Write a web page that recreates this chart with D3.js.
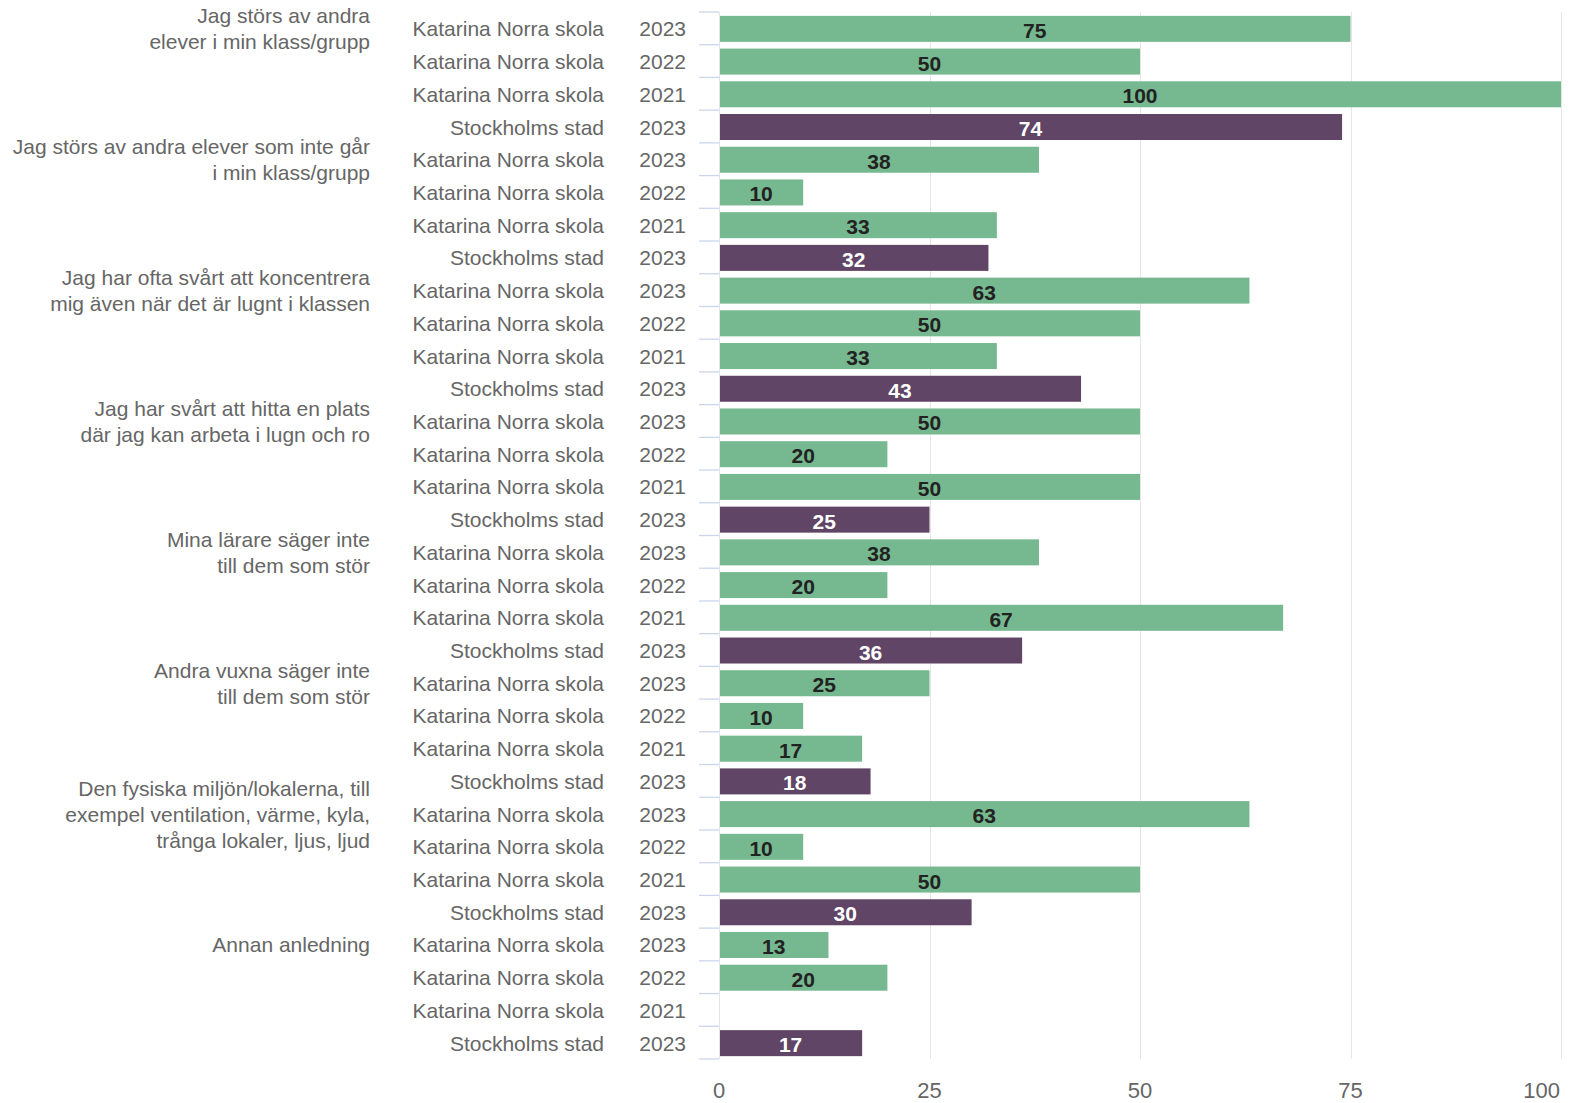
<!DOCTYPE html>
<html>
<head>
<meta charset="utf-8">
<script src="https://cdnjs.cloudflare.com/ajax/libs/d3/7.8.5/d3.min.js"></script>
<style>
  body { margin: 0; background: #fff; }
  svg { display: block; font-family: "Liberation Sans", Arial, Helvetica, sans-serif; }
</style>
</head>
<body>
<svg></svg>
<script>
// questions, each one has 4 rows
var questions = [
    ['Jag störs av andra', 'elever i min klass/grupp'],
    ['Jag störs av andra elever som inte går', 'i min klass/grupp'],
    ['Jag har ofta svårt att koncentrera', 'mig även när det är lugnt i klassen'],
    ['Jag har svårt att hitta en plats', 'där jag kan arbeta i lugn och ro'],
    ['Mina lärare säger inte', 'till dem som stör'],
    ['Andra vuxna säger inte', 'till dem som stör'],
    ['Den fysiska miljön/lokalerna, till', 'exempel ventilation, värme, kyla,', 'trånga lokaler, ljus, ljud'],
    ['Annan anledning']
];

var units = ['Katarina Norra skola', 'Katarina Norra skola', 'Katarina Norra skola', 'Stockholms stad'];
var years = ['2023', '2022', '2021', '2023'];

// values per question: KN 2023, KN 2022, KN 2021, Sthlm 2023
var values = [
    [75, 50, 100, 74],
    [38, 10, 33, 32],
    [63, 50, 33, 43],
    [50, 20, 50, 25],
    [38, 20, 67, 36],
    [25, 10, 17, 18],
    [63, 10, 50, 30],
    [13, 20, null, 17]
];

var xTicks = [0, 25, 50, 75, 100];

var width = 1579;
var height = 1103;
var plotLeft = 719;
var plotRight = 1561;
var plotTop = 12;
var plotBottom = 1059;

var green = '#76b88f';
var purple = '#604566';

var svg = d3.select('svg')
    .attr('width', width)
    .attr('height', height);

// flatten into rows
var rows = [];
questions.forEach((q, qi) => {
    units.forEach((u, ui) => {
        rows.push({ q: qi, i: ui, unit: u, year: years[ui], value: values[qi][ui], city: ui === 3 });
    });
});

var xScale = d3.scaleLinear()
    .domain([0, 100])
    .range([plotLeft, plotRight]);

var yScale = d3.scaleBand()
    .domain(d3.range(rows.length))
    .range([plotTop, plotBottom]);

var step = yScale.step();
var barH = 26;

// grid
svg.append('g')
    .selectAll('line')
    .data(xTicks.slice(1))
    .enter()
    .append('line')
    .attr('x1', (d) => Math.round(xScale(d)) + 0.5)
    .attr('x2', (d) => Math.round(xScale(d)) + 0.5)
    .attr('y1', plotTop)
    .attr('y2', plotBottom)
    .attr('stroke', '#e6e6e6')
    .attr('stroke-width', 1);

// y axis line and ticks
svg.append('line')
    .attr('x1', plotLeft + 0.5)
    .attr('x2', plotLeft + 0.5)
    .attr('y1', plotTop)
    .attr('y2', plotBottom)
    .attr('stroke', '#dde3ef')
    .attr('stroke-width', 1);

svg.append('g')
    .selectAll('line')
    .data(d3.range(rows.length + 1))
    .enter()
    .append('line')
    .attr('x1', plotLeft - 20)
    .attr('x2', plotLeft)
    .attr('y1', (d) => plotTop + d * step)
    .attr('y2', (d) => plotTop + d * step)
    .attr('stroke', '#ccd6eb')
    .attr('stroke-width', 1.3);

// bars
var barData = rows.filter((d) => d.value !== null);

svg.append('g')
    .selectAll('rect')
    .data(barData)
    .enter()
    .append('rect')
    .attr('x', xScale(0) + 1)
    .attr('y', (d) => yScale(rows.indexOf(d)) + step / 2 + 0.5 - barH / 2)
    .attr('width', (d) => xScale(d.value) - xScale(0) - 1)
    .attr('height', barH)
    .attr('fill', (d) => d.city ? purple : green);

// data labels
svg.append('g')
    .selectAll('text')
    .data(barData)
    .enter()
    .append('text')
    .attr('x', (d) => (xScale(0) + xScale(d.value)) / 2)
    .attr('y', (d) => yScale(rows.indexOf(d)) + step / 2 + 2)
    .attr('dominant-baseline', 'central')
    .attr('text-anchor', 'middle')
    .style('font-size', '21px')
    .style('font-weight', 'bold')
    .attr('fill', (d) => d.city ? '#ffffff' : '#222222')
    .text((d) => d.value);

// unit + year labels
var rowLabels = svg.append('g')
    .selectAll('g')
    .data(rows)
    .enter()
    .append('g')
    .attr('transform', (d, i) => 'translate(0,' + (yScale(i) + step / 2 + 0.5) + ')');

rowLabels.append('text')
    .attr('x', 604)
    .attr('dominant-baseline', 'central')
    .attr('text-anchor', 'end')
    .style('font-size', '21px')
    .attr('fill', '#666666')
    .text((d) => d.unit);

rowLabels.append('text')
    .attr('x', 686)
    .attr('dominant-baseline', 'central')
    .attr('text-anchor', 'end')
    .style('font-size', '21px')
    .attr('fill', '#666666')
    .text((d) => d.year);

// question labels, centered on first row of each group
var lineH = 26;
var qLabels = svg.append('g')
    .selectAll('text')
    .data(questions)
    .enter()
    .append('text')
    .attr('text-anchor', 'end')
    .style('font-size', '21px')
    .attr('fill', '#666666');

qLabels.each(function(lines, qi) {
    var cy = yScale(qi * 4) + step / 2 + 0.5;
    var startY = cy - (lines.length - 1) * lineH / 2;
    d3.select(this).selectAll('tspan')
        .data(lines)
        .enter()
        .append('tspan')
        .attr('x', 370)
        .attr('y', (d, li) => startY + li * lineH)
        .attr('dominant-baseline', 'central')
        .text((d) => d);
});

// x axis labels
svg.append('g')
    .selectAll('text')
    .data(xTicks)
    .enter()
    .append('text')
    .attr('x', (d) => d === 100 ? xScale(d) - 1 : xScale(d))
    .attr('y', 1098)
    .attr('text-anchor', (d) => d === 100 ? 'end' : 'middle')
    .style('font-size', '22px')
    .attr('fill', '#666666')
    .text((d) => d);
</script>
</body>
</html>
